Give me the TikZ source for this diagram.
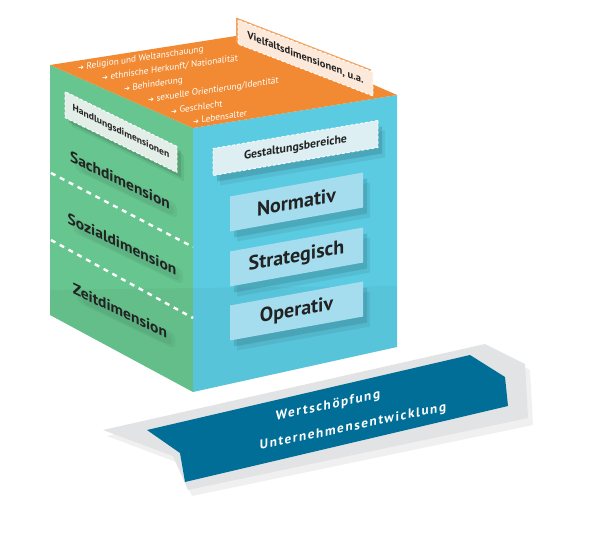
\documentclass[tikz,border=0pt]{standalone}
\usepackage{fontspec}
\setmainfont{PT Sans}
\newfontfamily\symfont{DejaVu Sans}
\newfontfamily\plaquefont{PT Sans}[LetterSpace=12]
\usetikzlibrary{shadows}
\definecolor{cOrange}{HTML}{F18A33}
\definecolor{cGreen}{HTML}{67C58F}
\definecolor{cBlue}{HTML}{5BCBE2}
\definecolor{cBoxBlue}{HTML}{A5DDEE}
\definecolor{cGestBox}{HTML}{DDEFF3}
\definecolor{cHandBox}{HTML}{E4EEE8}
\definecolor{cVielBox}{HTML}{FDE9D9}
\definecolor{cBand}{HTML}{006E96}
\definecolor{cPlaque}{HTML}{E2E3E4}
\definecolor{cInk}{HTML}{222222}
\tikzset{
  facetext/.style={font=\bfseries\fontsize{15.5}{16}\selectfont, text=cInk, inner sep=0pt, transform shape, yslant=-0.48},
  smudge/.style={fill=cGreen!40!black, opacity=0.07, rounded corners=5pt, yslant=-0.48},
  levelbox/.style={fill=cBoxBlue, inner sep=0pt, minimum width=133pt, minimum height=35pt, transform shape, yslant=0.18,
     font=\bfseries\fontsize{20}{21}\selectfont, text=cInk,
     general shadow={fill=cBlue!55!black, opacity=0.25, shadow xshift=4pt, shadow yshift=-6pt},
     general shadow={fill=cBlue!55!black, opacity=0.15, shadow xshift=7pt, shadow yshift=-10pt}},
  tagbox/.style={inner sep=0pt, transform shape, draw=white, line width=0.9pt, dash pattern=on 3pt off 2pt},
  toptext/.style={font=\fontsize{9.2}{10}\selectfont, text=white, inner sep=0pt, anchor=west, transform shape, yslant=0.145},
  dashsep/.style={draw=white, line width=2.4pt, dash pattern=on 5pt off 5pt},
  plaquetext/.style={font=\plaquefont\bfseries\fontsize{13.2}{14}\selectfont, text=white, inner sep=0pt, transform shape, yslant=0.21},
}
\newcommand{\arrowglyph}{{\symfont\fontsize{7}{7}\selectfont ➔}\hspace{2.5pt}}
\begin{document}
\begin{tikzpicture}[x=1pt,y=-1pt]
\useasboundingbox (0,0) rectangle (600,533);
\fill[white] (0,0) rectangle (600,533);
% cube corners
\coordinate (L) at (50,65);
\coordinate (B) at (255,33);
\coordinate (R) at (397,95);
\coordinate (F) at (193,128);
\coordinate (LB) at (50,315);
\coordinate (FB) at (193,392);
\coordinate (RB) at (397,347);
% faces
\fill[cGreen] (L) -- (F) -- (FB) -- (LB) -- cycle;
\fill[cBlue] (F) -- (R) -- (RB) -- (FB) -- cycle;
\fill[cOrange] (L) -- (B) -- (R) -- (F) -- cycle;
% lower reflection
\fill[black, opacity=0.03] (50,290) -- (193,288) -- (397,286) -- (RB) -- (FB) -- (LB) -- cycle;
% dashed separators on the green face
\coordinate (d1a) at (51,173);
\coordinate (d1b) at (193,247);
\coordinate (d2a) at (51,240);
\coordinate (d2b) at (193,318);
\draw[dashsep] (d1a) -- (d1b);
\draw[dashsep] (d2a) -- (d2b);
% Vielfalt label
\node[tagbox, fill=cVielBox, yslant=-0.385, minimum width=135pt, minimum height=24pt,
  general shadow={fill=cOrange!80!white, shadow xshift=-2pt, shadow yshift=2.5pt},
  font=\bfseries\fontsize{10.5}{11}\selectfont, text=cInk] (viel) at (305.5,58) {Vielfaltsdimensionen, u.a.};
% top face list
\node[toptext] (o1) at (78,68) {\arrowglyph Religion und Weltanschauung};
\node[toptext] (o2) at (102,78) {\arrowglyph ethnische Herkunft/ Nationalität};
\node[toptext] (o3) at (124,89) {\arrowglyph Behinderung};
\node[toptext] (o4) at (148,100) {\arrowglyph sexuelle Orientierung/Identität};
\node[toptext] (o5) at (171,111) {\arrowglyph Geschlecht};
\node[toptext] (o6) at (193,121) {\arrowglyph Lebensalter};
% Handlungsdimensionen label
\node[tagbox, fill=cHandBox, yslant=-0.49, minimum width=112pt, minimum height=26pt,
  general shadow={fill=cGreen!50!black, opacity=0.25, shadow xshift=4pt, shadow yshift=-5pt},
  general shadow={fill=cGreen!50!black, opacity=0.12, shadow xshift=7pt, shadow yshift=-9pt},
  font=\bfseries\fontsize{9.6}{10}\selectfont, text=cInk] (hand) at (121,132) {Handlungsdimensionen};
% soft shadows under the dimension words
\fill[shift={(125,186)}, smudge] (-50,-7) rectangle (52,8);
\fill[shift={(126,187)}, smudge] (-46,-4) rectangle (48,6);
\fill[shift={(127,250)}, smudge] (-54,-7) rectangle (56,8);
\fill[shift={(128,251)}, smudge] (-50,-4) rectangle (52,6);
\fill[shift={(125,317)}, smudge] (-48,-7) rectangle (50,8);
\fill[shift={(126,318)}, smudge] (-44,-4) rectangle (46,6);
% green face dimensions
\node[facetext] (sach) at (120,180) {Sachdimension};
\node[facetext] (soz) at (122,244) {Sozialdimension};
\node[facetext] (zeit) at (120,311) {Zeitdimension};
% Gestaltungsbereiche label
\node[tagbox, fill=cGestBox, yslant=0.17, minimum width=165pt, minimum height=27pt,
  general shadow={fill=cBlue!50!black, opacity=0.25, shadow xshift=4pt, shadow yshift=-6pt},
  general shadow={fill=cBlue!50!black, opacity=0.12, shadow xshift=7pt, shadow yshift=-10pt},
  font=\bfseries\fontsize{11.8}{12}\selectfont, text=cInk] (gest) at (295.5,148) {Gestaltungsbereiche};
% levels
\node[levelbox] (norm) at (296.5,202) {Normativ};
\node[levelbox] (strat) at (296.5,257) {Strategisch};
\node[levelbox] (oper) at (296.5,311) {Operativ};
% bottom plaque
\fill[black, opacity=0.06] (107,436) -- (489,349) -- (530,370) -- (533,425) -- (192,496) -- (176,462) -- cycle;
\fill[cPlaque] (103,430) -- (485,344) -- (525,364) -- (528,418) -- (188,490) -- (173,456) -- cycle;
\fill[cBand] (147,430) -- (470,355) -- (505,377) -- (508,406) -- (185,482) -- (180,453) -- cycle;
\node[plaquetext] (wert) at (328,406) {Wertschöpfung};
\node[plaquetext] (unt) at (353,427) {Unternehmensentwicklung};
\end{tikzpicture}
\end{document}
